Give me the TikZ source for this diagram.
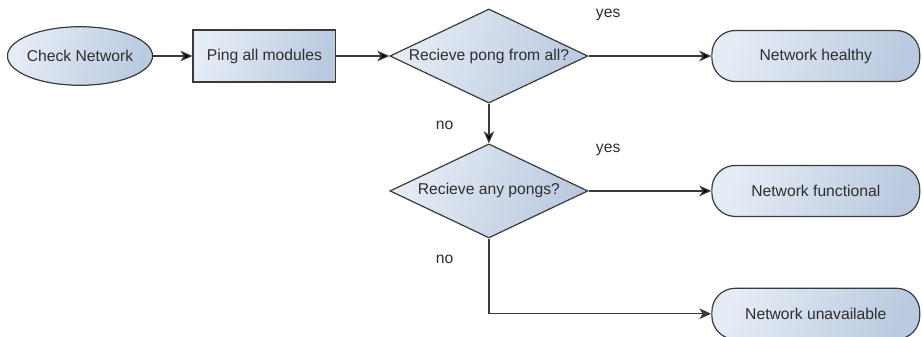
\documentclass[tikz,border=0pt]{standalone}
\usepackage{fontspec}
\setmainfont{Liberation Sans}
\usetikzlibrary{shapes.geometric,positioning,arrows.meta}

\definecolor{boxtop}{HTML}{E6ECF5}
\definecolor{boxbot}{HTML}{BACAE0}
\definecolor{boxline}{HTML}{3A3A3A}
\definecolor{ink}{HTML}{2E2E2E}

\tikzset{
  flow/.style={draw=boxline, line width=0.9pt, text=ink,
    font=\fontsize{11.8}{14}\selectfont,
    top color=boxtop, bottom color=boxbot, shading angle=70},
  startnode/.style={flow, ellipse, inner xsep=-2pt, inner ysep=0pt,
    minimum width=3.84cm, minimum height=1.55cm},
  process/.style={flow, rectangle, minimum width=3.78cm, minimum height=1.38cm},
  decision/.style={flow, diamond, aspect=2.1, inner sep=0pt,
    minimum width=5.24cm, minimum height=2.49cm},
  terminal/.style={flow, rectangle, rounded corners=0.62cm,
    minimum width=5.5cm, minimum height=1.35cm},
  answer/.style={text=ink, font=\fontsize{11.8}{14}\selectfont}
}

\begin{document}
\begin{tikzpicture}[on grid, >={Stealth[length=9pt,width=8pt,inset=2.5pt]}]
    \useasboundingbox (-2.117,1.482) rectangle (22.28,-7.435);

    \node[startnode] (check)                          {Check Network};
    \node[process]   (ping)    [right=4.88cm of check]  {Ping all modules};
    \node[decision]  (all)     [right=5.94cm of ping]   {Recieve pong from all?};
    \node[terminal]  (healthy) [right=8.65cm of all]    {Network healthy};
    \node[decision]  (any)     [below=3.57cm of all]    {Recieve any pongs?};
    \node[terminal]  (func)    [right=8.65cm of any]    {Network functional};
    \node[terminal]  (unavail) [below=3.25cm of func]   {Network unavailable};

    \path[->, draw=boxline, line width=0.9pt]
    (check) edge (ping)
    (ping)  edge (all)
    (all)   edge node [answer, pos=0.16, above=23pt] {yes} (healthy)
            edge node [answer, pos=0.55, left=23pt] {no} (any)
    (any)   edge node [answer, pos=0.16, above=23pt] {yes} (func);

    \draw[->, draw=boxline, line width=0.9pt] (any) |- (unavail)
        node [answer, pos=0.14, left=23pt] {no};
\end{tikzpicture}
\end{document}
